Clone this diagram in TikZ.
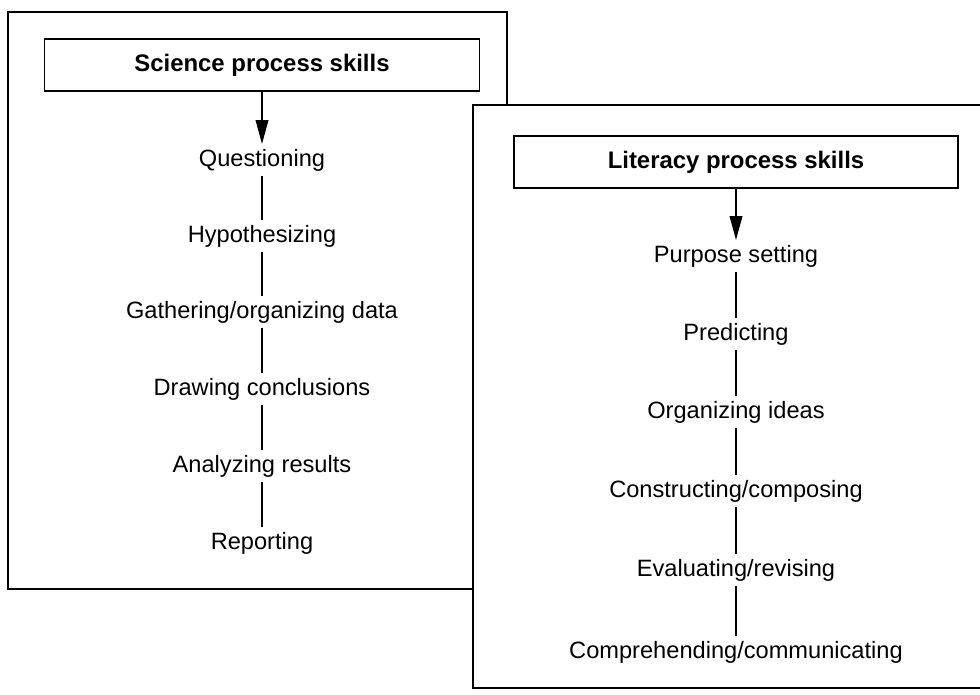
\documentclass[tikz,border=0pt]{standalone}
\usepackage{fontspec}
\setmainfont{Liberation Sans}
\usepackage{tikz}
\usetikzlibrary{positioning, arrows.meta}

\begin{document}
\begin{tikzpicture}[x=0.025cm, y=-0.025cm, line width=1.1pt,
    skill/.style={font=\fontsize{16.8}{19}\selectfont, inner sep=3pt},
    header/.style={draw, fill=white, font=\fontsize{17}{20}\selectfont\bfseries, minimum height=1.3cm},
    lead/.style={-{Triangle[length=17pt, width=9pt]}}]
            \useasboundingbox (0,0) rectangle (980,695);

            \draw (8,12) rectangle (507,589);

            \node[header, minimum width=10.875cm] (S0) at (262,65) {Science process skills};
            \node[skill] (S1) at (262,160) {Questioning};
            \node[skill] (S2) at (262,236) {Hypothesizing};
            \node[skill] (S3) at (262,312) {Gathering/organizing data};
            \node[skill] (S4) at (262,389) {Drawing conclusions};
            \node[skill] (S5) at (262,466) {Analyzing results};
            \node[skill] (S6) at (262,543) {Reporting};
            \draw[lead] (S0) -- (S1);
            \draw (S1) -- (S2) -- (S3) -- (S4) -- (S5) -- (S6);

            \filldraw[fill=white] (980,105) -- (473,105) -- (473,688) -- (980,688);

            \node[header, minimum width=11.1cm] (L0) at (736,162) {Literacy process skills};
            \node[skill] (L1) at (736,256) {Purpose setting};
            \node[skill] (L2) at (736,334) {Predicting};
            \node[skill] (L3) at (736,412) {Organizing ideas};
            \node[skill] (L4) at (736,491) {Constructing/composing};
            \node[skill] (L5) at (736,570) {Evaluating/revising};
            \node[skill] (L6) at (736,652) {Comprehending/communicating};
            \draw[lead] (L0) -- (L1);
            \draw (L1) -- (L2) -- (L3) -- (L4) -- (L5) -- (L6);
        \end{tikzpicture}
\end{document}
